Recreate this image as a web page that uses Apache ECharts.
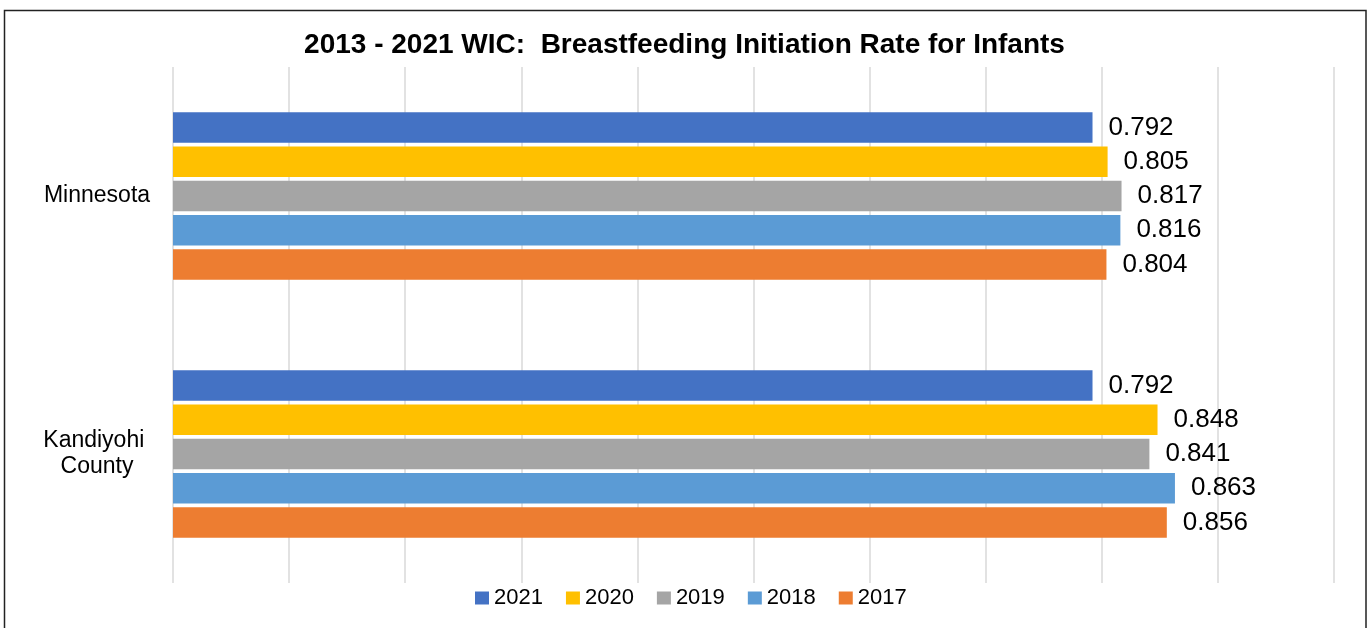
<!DOCTYPE html>
<html>
<head>
<meta charset="utf-8">
<script src="https://cdn.jsdelivr.net/npm/echarts@6/dist/echarts.min.js"></script>
<style>
  html, body { margin: 0; padding: 0; background: #fff; }
  #chart { width: 1369px; height: 628px; }
</style>
</head>
<body>
<div id="chart"></div>
<script>
const categories = ['Minnesota', 'Kandiyohi County'];
const seriesNames = ['2021', '2020', '2019', '2018', '2017'];
const values2021 = [0.792, 0.792];
const values2020 = [0.805, 0.848];
const values2019 = [0.817, 0.841];
const values2018 = [0.816, 0.863];
const values2017 = [0.804, 0.856];
const colors = ['#4472C4', '#FFC000', '#A5A5A5', '#5B9BD5', '#ED7D31'];
const titleText = '2013 - 2021 WIC:  Breastfeeding Initiation Rate for Infants';

const allValues = [values2021, values2020, values2019, values2018, values2017];
const FONT = '"Liberation Sans", Arial, sans-serif';

const chart = echarts.init(document.getElementById('chart'), null, { renderer: 'canvas' });

const series = seriesNames.map((name, i) => ({
  name: name,
  type: 'bar',
  data: allValues[i],
  barGap: '12%',
  barCategoryGap: '35%',
  itemStyle: { color: colors[i] },
  label: {
    show: true,
    position: 'right',
    distance: 16,
    fontSize: 26,
    fontFamily: FONT,
    color: '#000',
    formatter: p => p.value.toFixed(3)
  },
  emphasis: { disabled: true },
  animation: false
}));

chart.setOption({
  animation: false,
  color: colors,
  title: {
    text: titleText,
    left: 'center',
    top: 31,
    padding: 0,
    textStyle: { fontSize: 28, fontWeight: 'bold', fontFamily: FONT, color: '#000' }
  },
  legend: {
    data: seriesNames,
    left: 475,
    top: 587,
    padding: 0,
    itemGap: 23,
    itemWidth: 14,
    itemHeight: 13,
    icon: 'rect',
    textStyle: { fontSize: 22, fontFamily: FONT, color: '#000' }
  },
  grid: { left: 173, right: 35, top: 67, bottom: 45, containLabel: false },
  xAxis: {
    type: 'value',
    min: 0,
    max: 1,
    interval: 0.1,
    axisLabel: { show: false },
    axisLine: { show: false },
    axisTick: { show: false },
    splitLine: { show: true, lineStyle: { color: '#d9d9d9', width: 1.5 } }
  },
  yAxis: {
    type: 'category',
    inverse: true,
    data: categories,
    axisLine: { show: false },
    axisTick: { show: false },
    axisLabel: {
      margin: 76,
      align: 'center',
      fontSize: 23,
      lineHeight: 26,
      fontFamily: FONT,
      color: '#000',
      width: 130,
      overflow: 'break'
    }
  },
  graphic: [{
    type: 'rect',
    shape: { x: 4.5, y: 10.5, width: 1361.5, height: 640 },
    style: { fill: 'none', stroke: '#222', lineWidth: 1.5 },
    silent: true
  }],
  series: series
});
</script>
</body>
</html>
